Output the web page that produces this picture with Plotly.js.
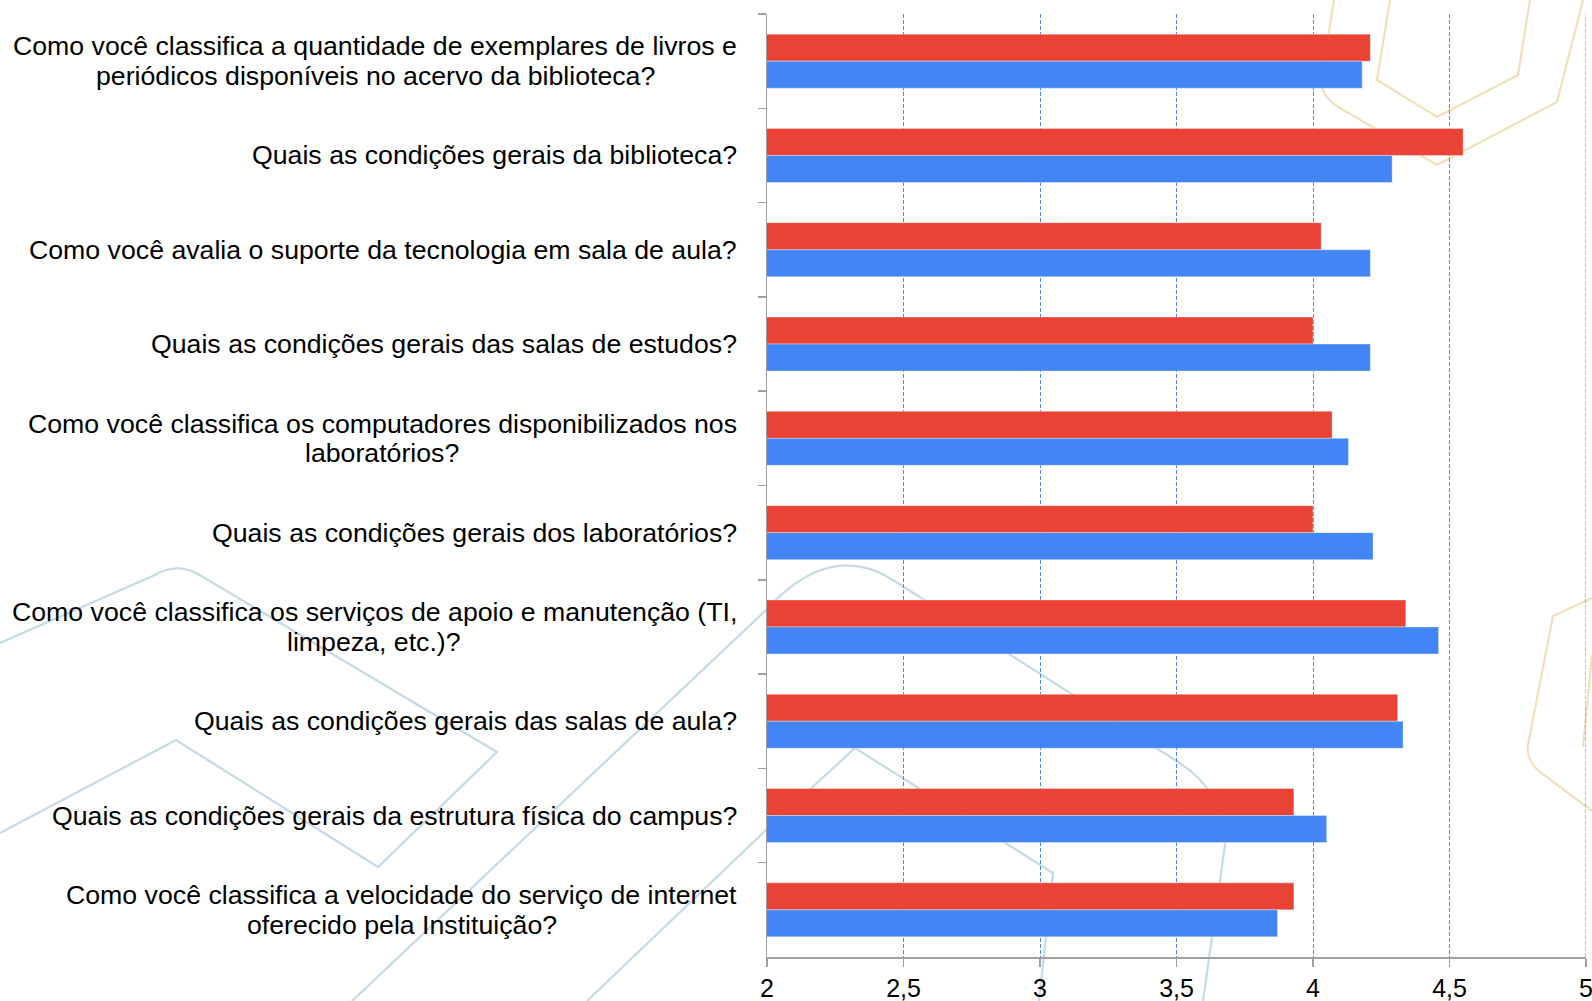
<!DOCTYPE html>
<html>
<head>
<meta charset="utf-8">
<script src="https://cdn.plot.ly/plotly-3.0.1.min.js"></script>
<style>
  html, body { margin: 0; padding: 0; background: #ffffff; }
  #chart { width: 1592px; height: 1001px; }
</style>
</head>
<body>
<div id="chart"></div>
<script>
// ---- data ----
const categories = [
  "Como você classifica a quantidade de exemplares de livros e<br>periódicos disponíveis no acervo da biblioteca?",
  "Quais as condições gerais da biblioteca?",
  "Como você avalia o suporte da tecnologia em sala de aula?",
  "Quais as condições gerais das salas de estudos?",
  "Como você classifica os computadores disponibilizados nos<br>laboratórios?",
  "Quais as condições gerais dos laboratórios?",
  "Como você classifica os serviços de apoio e manutenção (TI,<br>limpeza, etc.)?",
  "Quais as condições gerais das salas de aula?",
  "Quais as condições gerais da estrutura física do campus?",
  "Como você classifica a velocidade do serviço de internet<br>oferecido pela Instituição?"
];
const redValues  = [4.21, 4.55, 4.03, 4.00, 4.07, 4.00, 4.34, 4.31, 3.93, 3.93];
const blueValues = [4.18, 4.29, 4.21, 4.21, 4.13, 4.22, 4.46, 4.33, 4.05, 3.87];
const xTickVals  = [2, 2.5, 3, 3.5, 4, 4.5, 5];
const xTickText  = ["2", "2,5", "3", "3,5", "4", "4,5", "5"];

// ---- layout constants ----
const W = 1592, H = 1001;
const M = { l: 767, r: 6, t: 14, b: 44 };
const PW = W - M.l - M.r, PH = H - M.t - M.b;
const FONT = "Liberation Sans, Arial, sans-serif";
const LABEL_SIZE = 26.7;
const LINE_GAP = 29.5;
const LABEL_PAD = 30;

// background decoration (figure pixel coordinates), converted to paper units
const decorBlue = [
  [["M",0,643],["L",155,575],["Q",179,561,203,577],["L",497,752],["L",378,867],["L",176,740],["L",0,833]],
  [["M",352,1001],["L",766,610],["Q",830,540,893,580],["L",1175,760],["Q",1225,790,1225,845],["L",1203,1001]],
  [["M",587,1001],["L",766,830],["L",855,748],["L",1053,873],["L",1039,1001]]
];
const decorGold = [
  [["M",1334,0],["L",1322,75],["Q",1318,95,1340,108],["L",1437,165],["L",1557,102],["L",1583,0]],
  [["M",1390,0],["L",1377,80],["L",1437,117],["L",1518,75],["L",1530,0]],
  [["M",1592,598],["L",1553,616],["L",1528,745],["Q",1526,760,1540,772],["L",1592,811]],
  [["M",1592,655],["L",1583,747]]
];
function toPaper(cmds) {
  const fx = x => ((x - M.l) / PW).toFixed(5);
  const fy = y => (1 - (y - M.t) / PH).toFixed(5);
  return cmds.map(c => {
    const op = c[0], pts = [];
    for (let i = 1; i < c.length; i += 2) pts.push(fx(c[i]) + "," + fy(c[i + 1]));
    return op + pts.join(" ");
  }).join(" ");
}
const shapes = [];
decorBlue.forEach(d => shapes.push({type:"path", xref:"paper", yref:"paper", layer:"below",
  path: toPaper(d), line:{color:"rgba(176,206,222,0.75)", width:2.2}}));
decorGold.forEach(d => shapes.push({type:"path", xref:"paper", yref:"paper", layer:"below",
  path: toPaper(d), line:{color:"rgba(236,214,160,0.75)", width:2.2}}));
// dashed gridline at the right edge (x = last tick), which plotly omits at the boundary
shapes.push({type:"line", xref:"x", yref:"paper", x0: xTickVals[xTickVals.length-1], x1: xTickVals[xTickVals.length-1],
  y0: 0, y1: 1, layer: "above", line: {color:"#4a86e8", width:1, dash:"4px,2px"}});

// category labels: one annotation per line, lines centred on the longest line,
// block right-aligned next to the axis
const ctx = document.createElement("canvas").getContext("2d");
ctx.font = LABEL_SIZE + "px 'Liberation Sans', Arial, sans-serif";
const annotations = [];
categories.forEach(c => {
  const lines = c.split("<br>");
  const maxW = Math.max(...lines.map(t => ctx.measureText(t).width));
  lines.forEach((t, i) => {
    annotations.push({
      x: 0, xref: "paper", y: c, yref: "y",
      xanchor: "center", yanchor: "middle",
      xshift: -LABEL_PAD - maxW / 2,
      yshift: ((lines.length - 1) / 2 - i) * LINE_GAP,
      text: t, showarrow: false,
      font: { family: FONT, size: LABEL_SIZE, color: "#000000" }
    });
  });
});

const traces = [
  { type: "bar", orientation: "h", name: "red", y: categories, x: redValues,
    marker: { color: "#ea4335", line: { color: "rgba(255,255,255,0.35)", width: 1 } },
    hoverinfo: "x" },
  { type: "bar", orientation: "h", name: "blue", y: categories, x: blueValues,
    marker: { color: "#4285f4", line: { color: "rgba(255,255,255,0.35)", width: 1 } },
    hoverinfo: "x" }
];

const layout = {
  width: W, height: H,
  margin: M,
  paper_bgcolor: "#ffffff",
  plot_bgcolor: "rgba(0,0,0,0)",
  showlegend: false,
  barmode: "group",
  bargap: 0.427,
  bargroupgap: 0,
  font: { family: FONT, color: "#000000" },
  xaxis: {
    range: [2, 5],
    tickvals: xTickVals, ticktext: xTickText,
    showgrid: true, gridcolor: "#4a86e8", gridwidth: 1, griddash: "4px,2px",
    zeroline: false,
    showline: true, linecolor: "#a0a0a0", linewidth: 2,
    ticks: "outside", ticklen: 8, tickcolor: "#a0a0a0", tickwidth: 1.5,
    tickfont: { family: FONT, size: 25, color: "#000000" },
    ticklabeloverflow: "allow",
    fixedrange: true
  },
  yaxis: {
    type: "category",
    autorange: "reversed",
    showticklabels: false,
    showgrid: false, zeroline: false,
    showline: true, linecolor: "#a0a0a0", linewidth: 1.5,
    ticks: "outside", tickson: "boundaries", ticklen: 8, tickcolor: "#a0a0a0", tickwidth: 1.5,
    fixedrange: true
  },
  shapes: shapes,
  annotations: annotations
};

Plotly.newPlot("chart", traces, layout, { displayModeBar: false, staticPlot: true });
</script>
</body>
</html>
